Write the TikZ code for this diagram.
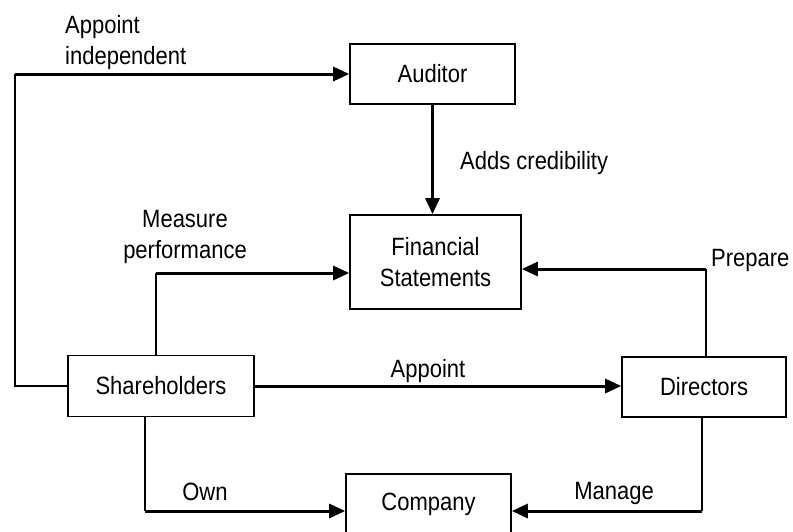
\documentclass[tikz,border=0pt]{standalone}
\usepackage{fontspec}
\setmainfont{Liberation Sans}[FakeStretch=0.88]
\usetikzlibrary{arrows.meta}

\tikzstyle{box} = [draw, line width=1.6pt, inner sep=0pt, align=center]
\tikzstyle{lbl} = [inner sep=0pt]
\tikzstyle{thn} = [line width=1.4pt]
\tikzstyle{thk} = [line width=3pt, -{Triangle[length=16pt,width=14pt]}]

\begin{document}
\begin{tikzpicture}[x=1pt,y=-1pt,font=\fontsize{25}{31}\selectfont]
\clip (0,0) rectangle (793,531);
% boxes
\node [box,minimum width=165pt,minimum height=60pt] (aud) at (432.5,74) {Auditor};
\node [box,minimum width=171pt,minimum height=94pt] (fin) at (435.5,262) {Financial\\Statements};
\node [box,minimum width=186pt,minimum height=61pt] (sh) at (161,386) {Shareholders};
\node [box,minimum width=164pt,minimum height=60pt] (dir) at (704,387) {Directors};
\node [box,minimum width=165pt,minimum height=60pt] (comp) at (428.5,504) {Company};
% corners
\coordinate (tl) at (15,74);
\coordinate (mp) at (156,273);
\coordinate (pp) at (706,269);
\coordinate (ow) at (145,511);
\coordinate (mg) at (702,511);
% connectors
\draw [thn] (sh.west) -- (sh.west -| tl) -- (tl);
\draw [thk] (tl) -- (aud.west);
\draw [thk] (aud.south) -- (aud.south |- fin.north);
\draw [thn] (mp |- sh.north) -- (mp);
\draw [thk] (mp) -- (mp -| fin.west);
\draw [thn] (pp |- dir.north) -- (pp);
\draw [thk] (pp) -- (pp -| fin.east);
\draw [thk] (sh.east) -- (sh.east -| dir.west);
\draw [thn] (ow |- sh.south) -- (ow);
\draw [thk] (ow) -- (ow -| comp.west);
\draw [thn] (mg |- dir.south) -- (mg);
\draw [thk] (mg) -- (mg -| comp.east);
% labels
\node [lbl,anchor=north west,align=left] (ai) at (65,15) {Appoint\\independent};
\node [lbl,anchor=west] (ac) at (460,163) {Adds credibility};
\node [lbl,align=center] (mpf) at (185,237) {Measure\\performance};
\node [lbl,anchor=base west] (pr) at (711,266) {Prepare};
\node [lbl,anchor=base] (ap) at (428,377) {Appoint};
\node [lbl,anchor=base] (own) at (205,500) {Own};
\node [lbl,anchor=base] (mn) at (614,499) {Manage};
\end{tikzpicture}
\end{document}
